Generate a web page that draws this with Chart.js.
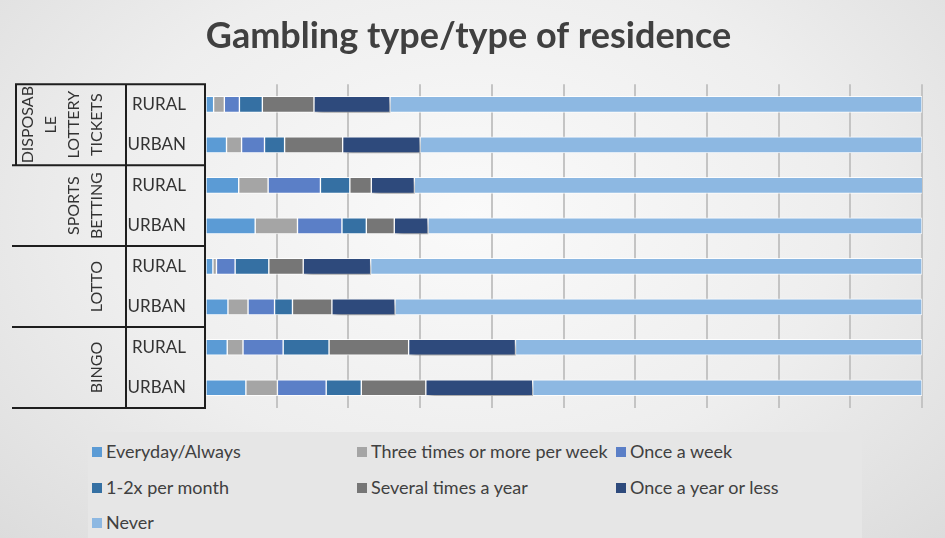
<!DOCTYPE html>
<html>
<head>
<meta charset="utf-8">
<script src="https://cdn.jsdelivr.net/npm/chart.js@4"></script>
<style>
  html, body { margin: 0; padding: 0; }
  body {
    width: 945px; height: 538px; overflow: hidden; position: relative;
    background: radial-gradient(ellipse at 50% 40%, #fafafa 0%, #eeeeee 55%, #dcdcdc 100%);
    font-family: Lato, sans-serif;
  }
  #wrap { position: absolute; left: 0; top: 0; width: 945px; height: 538px; }
  #legend {
    position: absolute; left: 88px; top: 432px; width: 774px; height: 106px;
    background: #e6e6e6;
  }
  .item { position: absolute; font-size: 18px; color: #404040; line-height: 20px; white-space: nowrap; }
  .item span.box { display: inline-block; width: 10px; height: 10px; margin-right: 4px; vertical-align: 1px; }
</style>
</head>
<body>
<div id="wrap"><canvas id="gamblingChart" width="945" height="538"></canvas></div>
<div id="legend"></div>
<script>
// categories (residence) and their gambling-type groups
const categories = ['RURAL', 'URBAN', 'RURAL', 'URBAN', 'RURAL', 'URBAN', 'RURAL', 'URBAN'];
const groups = [['DISPOSAB', 'LE', 'LOTTERY', 'TICKETS'], ['SPORTS', 'BETTING'], ['LOTTO'], ['BINGO']];

// frequency shares (%) per bar, top to bottom
const everyday = [1.2, 3.0, 4.7, 7.0, 1.1, 3.2, 3.1, 5.7];
const threePerWeek = [1.5, 2.1, 4.1, 5.9, 0.5, 2.8, 2.2, 4.4];
const onceWeek = [2.1, 3.2, 7.3, 6.2, 2.6, 3.7, 5.6, 6.8];
const perMonth = [3.2, 2.8, 4.1, 3.4, 4.7, 2.5, 6.4, 4.9];
const severalYear = [7.2, 8.1, 3.0, 3.9, 4.8, 5.5, 11.1, 9.0];
const onceYear = [10.6, 10.8, 6.0, 4.7, 9.4, 8.8, 14.9, 14.9];
const never = [74.2, 70.0, 70.9, 68.9, 76.9, 73.5, 56.7, 54.3];

const seriesLabels = ['Everyday/Always', 'Three times or more per week', 'Once a week',
  '1-2x per month', 'Several times a year', 'Once a year or less', 'Never'];
const seriesData = [everyday, threePerWeek, onceWeek, perMonth, severalYear, onceYear, never];
const seriesColors = ['#5b9bd5', '#a5a5a5', '#5b7fc7', '#3570a3', '#767676', '#2e4a7c', '#8db8e2'];

// group labels + black frame on the left
const groupFrame = {
  id: 'groupFrame',
  afterDraw(chart) {
    const ctx = chart.ctx;
    const area = chart.chartArea;
    const step = (area.bottom - area.top) / groups.length;
    ctx.save();
    ctx.strokeStyle = '#1e1e1e';
    ctx.lineWidth = 2;
    ctx.beginPath();
    ctx.moveTo(126, area.top); ctx.lineTo(126, area.bottom);
    ctx.moveTo(area.left, area.top - 1); ctx.lineTo(area.left, area.bottom + 1);
    ctx.moveTo(16, area.top); ctx.lineTo(16, area.top + step);
    for (let g = 0; g <= groups.length; g++) {
      const y = area.top + g * step;
      ctx.moveTo(g === 0 ? 15 : 12, y); ctx.lineTo(area.left, y);
    }
    ctx.stroke();
    ctx.fillStyle = '#333333';
    ctx.font = '16px Lato';
    ctx.textAlign = 'center';
    ctx.textBaseline = 'middle';
    groups.forEach((lines, g) => {
      const cy = area.top + (g + 0.5) * step;
      lines.forEach((line, i) => {
        const x = 97 - (lines.length - 1 - i) * 23;
        ctx.save();
        ctx.translate(x, cy);
        ctx.rotate(-Math.PI / 2);
        ctx.fillText(line, 0, 0);
        ctx.restore();
      });
    });
    ctx.restore();
  }
};

// soft shadow under the "Once a year or less" segments
const barShadow = {
  id: 'barShadow',
  beforeDatasetDraw(chart, args) {
    if (args.index !== 5) return;
    const ctx = chart.ctx;
    ctx.save();
    ctx.shadowColor = 'rgba(0,0,0,0.35)';
    ctx.shadowBlur = 6;
    ctx.shadowOffsetX = 3;
    ctx.shadowOffsetY = 5;
  },
  afterDatasetDraw(chart, args) {
    if (args.index !== 5) return;
    chart.ctx.restore();
  }
};

const chart = new Chart(document.getElementById('gamblingChart'), {
  type: 'bar',
  data: {
    labels: categories,
    datasets: seriesLabels.map((label, i) => ({
      label: label,
      data: seriesData[i],
      backgroundColor: seriesColors[i],
      borderColor: 'rgba(255,255,255,0.85)',
      borderWidth: 1,
      borderSkipped: false,
      barThickness: 16
    }))
  },
  options: {
    indexAxis: 'y',
    responsive: false,
    animation: false,
    layout: { padding: { left: 15, right: 23, bottom: 130, top: 0 } },
    plugins: {
      legend: { display: false },
      tooltip: { enabled: false },
      title: {
        display: true,
        text: 'Gambling type/type of residence',
        color: '#404040',
        font: { family: 'Lato', size: 36, weight: 'bold' },
        padding: { top: 15, bottom: 26 }
      }
    },
    scales: {
      x: {
        stacked: true,
        min: 0,
        max: 100,
        ticks: { display: false, stepSize: 10 },
        grid: { color: '#c4c4c4', lineWidth: 2, drawTicks: false },
        border: { display: false }
      },
      y: {
        stacked: true,
        ticks: { color: '#333333', font: { family: 'Lato', size: 17 }, padding: 19 },
        grid: { display: false, drawTicks: false },
        border: { display: false },
        afterFit(scale) { scale.width = 190; }
      }
    }
  },
  plugins: [groupFrame, barShadow]
});

// legend laid out as a three-column grid
const colX = [4, 269, 528];
const rowY = [9, 45, 80];
const legendBox = document.getElementById('legend');
chart.data.datasets.forEach((ds, i) => {
  const item = document.createElement('div');
  item.className = 'item';
  item.style.left = colX[i % 3] + 'px';
  item.style.top = rowY[Math.floor(i / 3)] + 'px';
  item.innerHTML = '<span class="box" style="background:' + ds.backgroundColor + '"></span>' + ds.label;
  legendBox.appendChild(item);
});
</script>
</body>
</html>
